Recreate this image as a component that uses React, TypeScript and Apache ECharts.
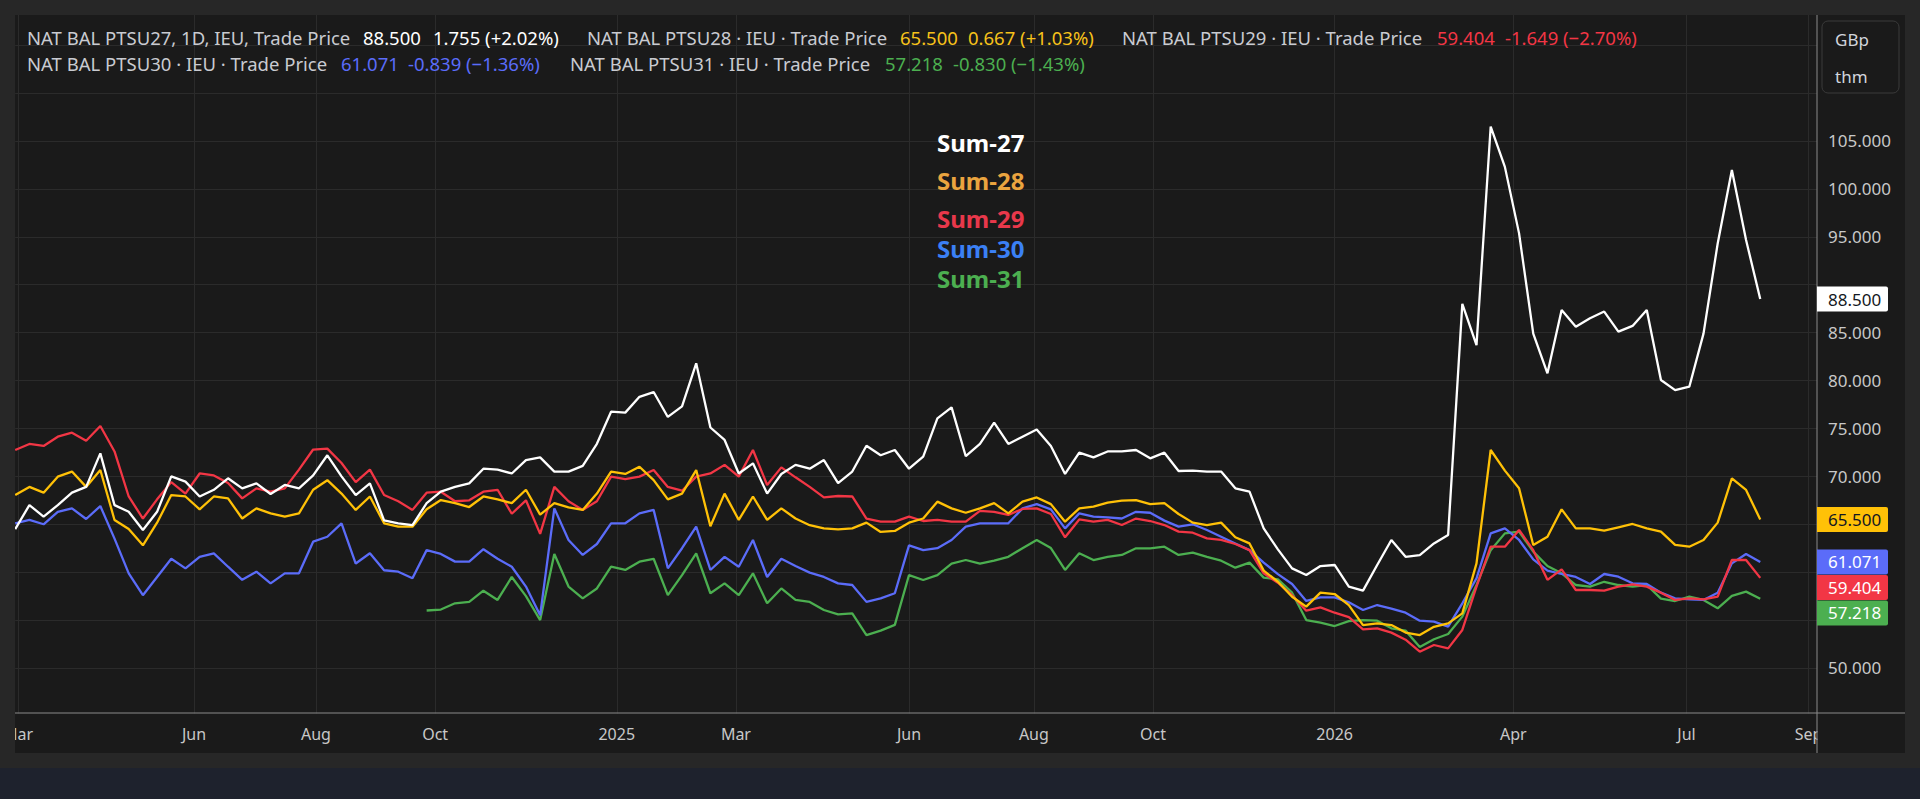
import React, { useEffect, useRef } from 'react';
import * as echarts from 'echarts';

// ---------- axis data ----------
const FIRST_DAY = '2024-02-29';
const AXIS_DAY_COUNT = 636;
const UK_HOLIDAYS = [
  '2024-03-29', '2024-04-01', '2024-05-06', '2024-05-27', '2024-08-26', '2024-12-25', '2024-12-26',
  '2025-01-01', '2025-04-18', '2025-04-21', '2025-05-05', '2025-05-26', '2025-08-25', '2025-12-25', '2025-12-26',
  '2026-01-01', '2026-04-03', '2026-04-06', '2026-05-04', '2026-05-25', '2026-08-31',
];
const SAMPLE_STEP = 5; // one reading every 5 trading days
const MONTH_LABELS: [string, string][] = [
  ['2024-03', 'Mar'], ['2024-06', 'Jun'], ['2024-08', 'Aug'], ['2024-10', 'Oct'],
  ['2025-01', '2025'], ['2025-03', 'Mar'], ['2025-06', 'Jun'], ['2025-08', 'Aug'], ['2025-10', 'Oct'],
  ['2026-01', '2026'], ['2026-04', 'Apr'], ['2026-07', 'Jul'], ['2026-09', 'Sep'],
];
const Y_MIN = 45;
const Y_MAX = 118.15;
const Y_STEP = 5;

// ---------- series values (GBp/thm) ----------
const SUM27 = [
  64.5, 67.0, 65.8, 67.0, 68.3, 68.9, 72.4, 67.0, 66.3, 64.4,
  66.3, 70.0, 69.45, 67.9, 68.6, 69.8, 68.75, 69.27, 68.16, 69.1,
  68.75, 70.1, 72.2, 70.0, 68.05, 69.27, 65.4, 65.1, 64.9, 67.2,
  68.4, 68.9, 69.27, 70.8, 70.7, 70.3, 71.7, 71.98, 70.5, 70.5,
  71.1, 73.4, 76.75, 76.65, 78.3, 78.8, 76.2, 77.3, 81.8, 75.1,
  73.8, 70.3, 71.36, 68.2, 70.25, 71.2, 70.8, 71.7, 69.3, 70.5,
  73.2, 72.2, 72.75, 70.8, 72.05, 76.05, 77.2, 72.1, 73.4, 75.6,
  73.38, 74.14, 74.9, 73.17, 70.25, 72.47, 71.98, 72.6, 72.6, 72.75,
  71.88, 72.47, 70.56, 70.6, 70.5, 70.5, 68.75, 68.4, 64.57, 62.38,
  60.4, 59.7, 60.64, 60.75, 58.5, 58.07, 60.75, 63.36, 61.6, 61.79,
  63.0, 63.88, 88.0, 83.7, 106.5, 102.3, 95.36, 84.9, 80.75, 87.36,
  85.62, 86.5, 87.2, 85.1, 85.7, 87.36, 80.05, 79.0, 79.36, 84.9,
  94.3, 101.97, 94.67, 88.5,
];
const SUM28 = [
  68.05, 68.9, 68.3, 69.97, 70.5, 68.9, 70.66, 65.45, 64.5, 62.8,
  65.16, 68.05, 67.9, 66.56, 67.9, 67.7, 65.6, 66.66, 66.14, 65.8,
  66.14, 68.6, 69.6, 68.2, 66.5, 67.9, 65.1, 64.75, 64.75, 66.56,
  67.53, 67.2, 66.8, 67.9, 67.6, 67.2, 68.6, 66.0, 67.2, 66.77,
  66.5, 68.2, 70.5, 70.25, 71.0, 69.6, 67.6, 68.2, 70.66, 64.8,
  68.2, 65.45, 67.9, 65.45, 66.66, 65.6, 64.9, 64.57, 64.47, 64.57,
  65.17, 64.2, 64.3, 65.17, 65.6, 67.36, 66.66, 66.2, 66.66, 67.2,
  66.14, 67.36, 67.8, 67.1, 65.27, 66.66, 66.84, 67.25, 67.46, 67.53,
  67.1, 67.2, 66.07, 65.17, 64.92, 65.17, 63.64, 63.0, 60.16, 59.0,
  57.44, 56.4, 57.86, 57.72, 56.57, 54.48, 54.66, 54.48, 53.7, 53.44,
  54.3, 54.66, 55.7, 60.92, 72.75, 70.6, 68.75, 62.84, 63.7, 66.56,
  64.57, 64.57, 64.33, 64.68, 65.03, 64.57, 64.23, 62.84, 62.66, 63.36,
  65.17, 69.8, 68.58, 65.5,
];
const SUM29 = [
  72.75, 73.38, 73.17, 74.14, 74.56, 73.72, 75.25, 72.6, 67.9, 65.6,
  67.6, 69.4, 68.2, 70.3, 70.1, 69.3, 67.7, 68.75, 68.4, 68.75,
  70.7, 72.8, 72.9, 71.4, 69.4, 70.7, 68.05, 67.4, 66.5, 68.3,
  68.4, 67.4, 67.5, 68.4, 68.6, 66.1, 67.5, 64.0, 68.9, 67.4,
  66.5, 67.4, 69.97, 69.7, 69.97, 70.66, 68.9, 68.5, 69.97, 70.3,
  71.2, 69.97, 72.75, 69.1, 70.94, 69.9, 68.9, 67.8, 67.95, 67.9,
  65.6, 65.27, 65.27, 65.8, 65.34, 65.45, 65.27, 65.27, 66.4, 66.3,
  65.97, 66.6, 66.66, 66.07, 63.64, 65.5, 65.27, 65.45, 64.92, 65.6,
  65.34, 64.92, 64.23, 64.12, 63.53, 63.36, 62.94, 62.3, 59.88, 58.9,
  57.6, 55.98, 56.33, 55.77, 55.3, 54.03, 54.14, 53.69, 52.95, 51.7,
  52.4, 52.05, 53.97, 58.49, 62.66, 62.66, 64.4, 62.3, 59.2, 60.3,
  58.14, 58.14, 58.07, 58.49, 58.73, 58.49, 57.86, 57.1, 57.27, 57.17,
  57.44, 61.27, 61.27, 59.404,
];
const SUM30 = [
  65.1, 65.45, 65.0, 66.3, 66.66, 65.55, 66.9, 63.5, 59.88, 57.6,
  59.5, 61.4, 60.4, 61.6, 61.97, 60.57, 59.2, 60.05, 58.83, 59.88,
  59.88, 63.18, 63.7, 65.1, 60.9, 61.97, 60.2, 60.05, 59.36, 62.3,
  61.9, 61.1, 61.1, 62.4, 61.4, 60.57, 58.5, 55.5, 66.66, 63.36,
  61.8, 62.94, 65.1, 65.1, 66.14, 66.5, 60.4, 62.5, 64.75, 60.23,
  61.6, 60.57, 63.36, 59.5, 61.4, 60.64, 59.95, 59.5, 58.83, 58.66,
  56.9, 57.27, 57.8, 62.8, 62.3, 62.5, 63.36, 64.75, 65.1, 65.1,
  65.1, 66.66, 67.1, 66.56, 64.57, 66.14, 65.8, 65.72, 65.6, 66.3,
  66.2, 65.38, 64.75, 65.0, 64.4, 63.7, 63.0, 62.3, 61.0, 59.8,
  58.76, 57.0, 57.37, 57.37, 56.85, 56.05, 56.57, 56.2, 55.77, 54.94,
  54.84, 54.31, 56.75, 59.36, 64.05, 64.57, 63.36, 61.34, 60.16, 59.81,
  59.5, 58.77, 59.81, 59.53, 58.84, 58.77, 57.86, 57.27, 57.17, 57.1,
  57.86, 60.92, 61.9, 61.071,
];
const SUM31_FIRST_SAMPLE = 29;
const SUM31 = [
  56.0,
  56.1, 56.75, 56.9, 58.07, 57.1, 59.5, 57.5, 55.0, 61.9, 58.5,
  57.27, 58.3, 60.57, 60.23, 61.1, 61.4, 57.6, 59.7, 61.97, 57.8,
  58.83, 57.6, 59.88, 56.75, 58.3, 57.1, 56.9, 56.05, 55.6, 55.7,
  53.44, 53.9, 54.5, 59.7, 59.18, 59.7, 60.9, 61.27, 60.9, 61.2,
  61.6, 62.5, 63.36, 62.52, 60.23, 61.97, 61.27, 61.6, 61.8, 62.49,
  62.49, 62.66, 61.8, 62.03, 61.6, 61.2, 60.47, 61.0, 59.43, 59.25,
  57.86, 55.0, 54.73, 54.38, 54.9, 55.0, 54.94, 54.14, 53.9, 52.2,
  53.0, 53.55, 55.36, 58.66, 62.3, 64.05, 64.23, 62.14, 60.64, 59.88,
  58.66, 58.49, 59.0, 58.66, 58.49, 58.66, 57.24, 56.99, 57.44, 57.1,
  56.23, 57.52, 57.97, 57.218,
];

const NAMES = ['Sum-27', 'Sum-28', 'Sum-29', 'Sum-30', 'Sum-31'];
const TICKERS = [
  'NAT BAL PTSU27, 1D, IEU, Trade Price',
  'NAT BAL PTSU28 · IEU · Trade Price',
  'NAT BAL PTSU29 · IEU · Trade Price',
  'NAT BAL PTSU30 · IEU · Trade Price',
  'NAT BAL PTSU31 · IEU · Trade Price',
];
const CHANGES = [1.755, 0.667, -1.649, -0.839, -0.830];
const CHANGE_PCT = [2.02, 1.03, -2.7, -1.36, -1.43];
const UNIT_LINES = ['GBp', 'thm'];

// ---------- styles ----------
const FONT = '"Noto Sans", "Open Sans", sans-serif';
const LINE_COLORS = ['#ffffff', '#ffc107', '#f23645', '#5b6cf9', '#4caf50'];
const VALUE_COLORS = ['#ffffff', '#f7c21a', '#f23645', '#5b6cf9', '#4caf50'];
const TAG_TEXT_COLORS = ['#131722', '#131722', '#ffffff', '#ffffff', '#ffffff'];
const NOTE_COLORS = ['#ffffff', '#eaa43f', '#e8384b', '#3b80f5', '#4caf50'];
const LEGEND_POS = [
  { y: 37, title: 27, value: 363, change: 433 },
  { y: 37, title: 587, value: 900, change: 968 },
  { y: 37, title: 1122, value: 1437, change: 1505 },
  { y: 63, title: 27, value: 341, change: 408 },
  { y: 63, title: 570, value: 885, change: 953 },
];
const LEGEND_FONT = '18.5px ' + FONT;
const NOTE_X = 937;
const NOTE_Y = [142, 180, 218, 248, 278];

const PLOT_BG = '#1a1a1a';
const FRAME_BG = '#272727';
const PAGE_BOTTOM = '#1e222d';
const GRID_LINE = '#2b2b2b';
const AXIS_LINE = '#8a8a8a';
const AXIS_TEXT = '#c8c8c8';
const TAG_H = 25.5;

function buildTradingDays(): string[] {
  const out: string[] = [];
  const hol = new Set(UK_HOLIDAYS);
  const d = new Date(FIRST_DAY + 'T00:00:00Z');
  while (out.length < AXIS_DAY_COUNT) {
    const wd = d.getUTCDay();
    const s = d.toISOString().slice(0, 10);
    if (wd !== 0 && wd !== 6 && !hol.has(s)) out.push(s);
    d.setUTCDate(d.getUTCDate() + 1);
  }
  return out;
}

function fmtChange(c: number, p: number) {
  const pct = (p >= 0 ? '+' : '\u2212') + Math.abs(p).toFixed(2) + '%';
  return c.toFixed(3) + ' (' + pct + ')';
}

export default function App() {
  const ref = useRef<HTMLDivElement>(null);

  useEffect(() => {
    document.body.style.margin = '0';
    const el = ref.current;
    if (!el) return;
    const chart = echarts.init(el, null, { renderer: 'svg' });

    const days = buildTradingDays();
    const monthMap: Record<string, string> = {};
    MONTH_LABELS.forEach(([m, t]) => (monthMap[m] = t));
    const labelText: Record<string, string> = {};
    days.forEach((d, i) => {
      const m = d.slice(0, 7);
      if (i === 0 || days[i - 1].slice(0, 7) !== m) {
        if (monthMap[m]) labelText[d] = monthMap[m];
      }
    });
    const showAt = (_i: number, v: string) => !!labelText[v];

    const sampleDays = days.filter((_, i) => i % SAMPLE_STEP === 0);
    const pairs = (vals: number[], first = 0) => vals.map((v, k) => [sampleDays[first + k], v]);
    const seriesVals = [
      pairs(SUM27), pairs(SUM28), pairs(SUM29), pairs(SUM30), pairs(SUM31, SUM31_FIRST_SAMPLE),
    ];
    const lastVals = [SUM27, SUM28, SUM29, SUM30, SUM31].map((a) => a[a.length - 1]);
    const drawOrder = [4, 3, 2, 1, 0];

    let hiddenTicks: number[] = [];
    const yFormatter = (v: number) => {
      if (v < 50 || v > 105.5) return '';
      if (hiddenTicks.some((h) => Math.abs(h - v) < 1e-6)) return '';
      return v.toFixed(3);
    };

    chart.setOption({
      animation: false,
      backgroundColor: PLOT_BG,
      grid: { left: 15, top: 15, width: 1802, height: 700.9, containLabel: false },
      xAxis: {
        type: 'category',
        data: days,
        boundaryGap: false,
        axisLine: { show: false },
        axisTick: { show: false },
        axisLabel: {
          interval: showAt,
          formatter: (v: string) => labelText[v] || '',
          color: AXIS_TEXT,
          fontSize: 16,
          fontFamily: FONT,
          margin: 8,
          lineHeight: 20,
        },
        splitLine: { show: true, interval: showAt, lineStyle: { color: GRID_LINE, width: 1 } },
      },
      yAxis: {
        type: 'value',
        position: 'right',
        min: Y_MIN,
        max: Y_MAX,
        interval: Y_STEP,
        axisLine: { show: false },
        axisTick: { show: false },
        axisLabel: {
          margin: 11,
          color: AXIS_TEXT,
          fontSize: 17,
          fontFamily: FONT,
          showMaxLabel: false,
          formatter: yFormatter,
        },
        splitLine: { show: true, showMinLine: false, showMaxLine: false, lineStyle: { color: GRID_LINE, width: 1 } },
      },
      series: drawOrder.map((k) => ({
        name: NAMES[k],
        type: 'line',
        data: seriesVals[k],
        showSymbol: false,
        symbol: 'none',
        lineStyle: { color: LINE_COLORS[k], width: 2.3 },
        itemStyle: { color: LINE_COLORS[k] },
        z: 2 + (4 - k),
      })),
    });

    // price tags on the right axis, positioned through the axis scale
    const toPx = (v: number) => chart.convertToPixel({ yAxisIndex: 0 }, v) as number;
    const tags = lastVals.map((v, k) => ({ k, v, y: toPx(v) })).sort((a, b) => a.y - b.y);
    for (let i = 1; i < tags.length; i++) {
      if (tags[i].y < tags[i - 1].y + TAG_H) tags[i].y = tags[i - 1].y + TAG_H;
    }
    // axis labels that sit under a tag are covered in the reference
    const tickVals: number[] = [];
    for (let v = 50; v <= 105; v += Y_STEP) tickVals.push(v);
    hiddenTicks = tickVals.filter((v) => tags.some((t) => Math.abs(toPx(v) - t.y) < 21));

    const Z = 100;
    const g: any[] = [];
    // frame
    g.push({ type: 'rect', id: 'fL', z: Z, shape: { x: 0, y: 0, width: 15, height: 799 }, style: { fill: FRAME_BG } });
    g.push({ type: 'rect', id: 'fT', z: Z, shape: { x: 0, y: 0, width: 1920, height: 15 }, style: { fill: FRAME_BG } });
    g.push({ type: 'rect', id: 'fR', z: Z, shape: { x: 1905, y: 0, width: 15, height: 799 }, style: { fill: FRAME_BG } });
    g.push({ type: 'rect', id: 'fB', z: Z, shape: { x: 0, y: 753, width: 1920, height: 15 }, style: { fill: FRAME_BG } });
    g.push({ type: 'rect', id: 'fP', z: Z, shape: { x: 0, y: 768, width: 1920, height: 31 }, style: { fill: PAGE_BOTTOM } });
    g.push({ type: 'rect', id: 'cover1', z: Z, shape: { x: 15, y: 713.5, width: 1802, height: 4 }, style: { fill: PLOT_BG } });
    g.push({ type: 'rect', id: 'cover2', z: Z, shape: { x: 1817.5, y: 713.5, width: 87.5, height: 39.5 }, style: { fill: PLOT_BG } });
    g.push({ type: 'line', id: 'axX', z: Z + 1, shape: { x1: 15, y1: 713, x2: 1905, y2: 713 }, style: { stroke: AXIS_LINE, lineWidth: 1 } });
    g.push({ type: 'line', id: 'axY', z: Z + 1, shape: { x1: 1817, y1: 15, x2: 1817, y2: 753 }, style: { stroke: AXIS_LINE, lineWidth: 1 } });
    // unit box
    g.push({ type: 'rect', id: 'unitBox', z: Z, shape: { x: 1822, y: 21, width: 77, height: 72, r: 6 }, style: { fill: PLOT_BG, stroke: '#3a3a3a', lineWidth: 1 } });
    UNIT_LINES.forEach((t, i) => g.push({
      type: 'text', id: 'unit' + i, z: Z + 1, x: 1835, y: 39 + i * 37,
      style: { text: t, fill: '#d1d4dc', font: '17px ' + FONT, align: 'left', verticalAlign: 'middle' },
    }));
    // legend
    LEGEND_POS.forEach((p, k) => {
      g.push({ type: 'text', id: 'lt' + k, z: Z, x: p.title, y: p.y, style: { text: TICKERS[k], fill: '#c9cbd1', font: LEGEND_FONT, align: 'left', verticalAlign: 'middle' } });
      g.push({ type: 'text', id: 'lv' + k, z: Z, x: p.value, y: p.y, style: { text: lastVals[k].toFixed(3), fill: VALUE_COLORS[k], font: LEGEND_FONT, align: 'left', verticalAlign: 'middle' } });
      g.push({ type: 'text', id: 'lc' + k, z: Z, x: p.change, y: p.y, style: { text: fmtChange(CHANGES[k], CHANGE_PCT[k]), fill: VALUE_COLORS[k], font: LEGEND_FONT, align: 'left', verticalAlign: 'middle' } });
    });
    // notes
    NAMES.forEach((n, k) => g.push({
      type: 'text', id: 'note' + k, z: Z, x: NOTE_X, y: NOTE_Y[k],
      style: { text: n, fill: NOTE_COLORS[k], font: 'bold 24px ' + FONT, lineHeight: 26, align: 'left', verticalAlign: 'middle' },
    }));
    // tags
    tags.forEach((t) => {
      g.push({ type: 'rect', id: 'tag' + t.k, z: Z + 2, shape: { x: 1817, y: t.y - 12.5, width: 71, height: 25, r: [0, 2, 2, 0] }, style: { fill: LINE_COLORS[t.k] } });
      g.push({ type: 'text', id: 'tagt' + t.k, z: Z + 3, x: 1828, y: t.y, style: { text: t.v.toFixed(3), fill: TAG_TEXT_COLORS[t.k], font: '17px ' + FONT, align: 'left', verticalAlign: 'middle' } });
    });

    chart.setOption({ graphic: g, yAxis: { axisLabel: { formatter: yFormatter } } });

    return () => chart.dispose();
  }, []);

  return <div ref={ref} style={{ position: 'absolute', left: 0, top: 0, width: 1920, height: 799 }} />;
}
